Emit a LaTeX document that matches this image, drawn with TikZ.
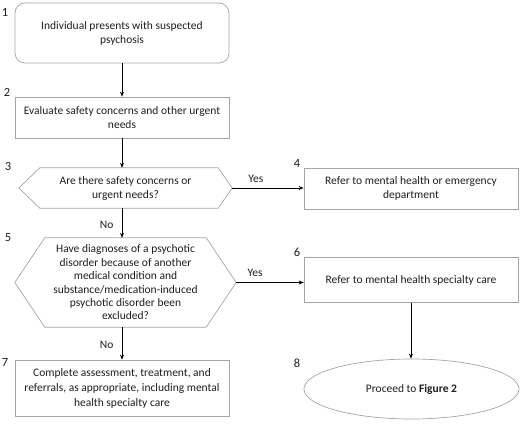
\documentclass[tikz,border=0pt]{standalone}
\usepackage{fontspec}
\setmainfont{Carlito}
\usetikzlibrary{arrows.meta,shapes.geometric}
\definecolor{boxgray}{RGB}{165,165,165}
\definecolor{txt}{RGB}{30,30,30}
\begin{document}
\begin{tikzpicture}[x=1pt,y=-1pt,
  font=\fontsize{11.5}{14}\selectfont, text=txt,
  box/.style={draw=boxgray, line width=0.7pt, align=center, inner sep=0pt},
  hexnode/.style={align=center, inner sep=0pt},
  hexline/.style={draw=boxgray, line width=0.7pt},
  conn/.style={-{Stealth[length=5pt,width=4pt]}, line width=0.7pt},
  num/.style={inner sep=0pt, font=\fontsize{12.5}{14}\selectfont}]
\useasboundingbox (0,0) rectangle (520,427);

\node[box, rounded corners=10pt, minimum width=214pt, minimum height=60pt] (b1) at (122,33) {Individual presents with suspected\\psychosis};
\node[box, minimum width=214pt, minimum height=41pt] (b2) at (122,117.5) {Evaluate safety concerns and other urgent\\needs};
\node[hexnode, minimum width=213pt, minimum height=40pt] (h3) at (125.5,188) {Are there safety concerns or\\urgent needs?};
\node[box, minimum width=214pt, minimum height=41pt] (b4) at (411,188.5) {Refer to mental health or emergency\\department};
\node[hexnode, minimum width=221pt, minimum height=89pt, font=\fontsize{11.5}{13.4}\selectfont] (h5) at (125.5,282.5) {Have diagnoses of a psychotic\\disorder because of another\\medical condition and\\substance/medication-induced\\psychotic disorder been\\excluded?};
\node[box, minimum width=214pt, minimum height=45pt] (b6) at (411,280) {Refer to mental health specialty care};
\node[box, ellipse, minimum width=215pt, minimum height=60pt] (e8) at (411.5,389) {Proceed to \textbf{Figure 2}};
\node[box, minimum width=214pt, minimum height=56pt, font=\fontsize{11.5}{15}\selectfont] (b7) at (122,388) {Complete assessment, treatment, and\\referrals, as appropriate, including mental\\health specialty care};

\draw[hexline] ([xshift=21pt]h3.north west) -- ([xshift=-14pt]h3.north east) -- (h3.east) -- ([xshift=-14pt]h3.south east) -- ([xshift=21pt]h3.south west) -- (h3.west) -- cycle;
\draw[hexline] ([xshift=30pt]h5.north west) -- ([xshift=-30pt]h5.north east) -- (h5.east) -- ([xshift=-30pt]h5.south east) -- ([xshift=30pt]h5.south west) -- (h5.west) -- cycle;

\node[num] (n1) at (5,12) {1};
\node[num] (n2) at (7,92) {2};
\node[num] (n3) at (8,166) {3};
\node[num] (n4) at (297,163) {4};
\node[num] (n5) at (8,238) {5};
\node[num] (n6) at (297,252) {6};
\node[num] (n7) at (5,362) {7};
\node[num] (n8) at (297,363) {8};

\draw[conn] (b1.south) -- (b2.north);
\draw[conn] (b2.south) -- (b2.south |- h3.north);
\draw[conn] (b2.south |- h3.south) -- node[left=5pt, pos=0.55] {No} (b2.south |- h5.north);
\draw[conn] (b2.south |- h5.south) -- node[left=5pt, pos=0.55] {No} (b7.north);
\draw[conn] (h3.east) -- node[above=2pt, pos=0.33] {Yes} (h3.east -| b4.west);
\draw[conn] (h5.east) -- node[above=2pt, pos=0.28] {Yes} (h5.east -| b6.west);
\draw[conn] (b6.south) -- (b6.south |- e8.north);
\end{tikzpicture}
\end{document}
